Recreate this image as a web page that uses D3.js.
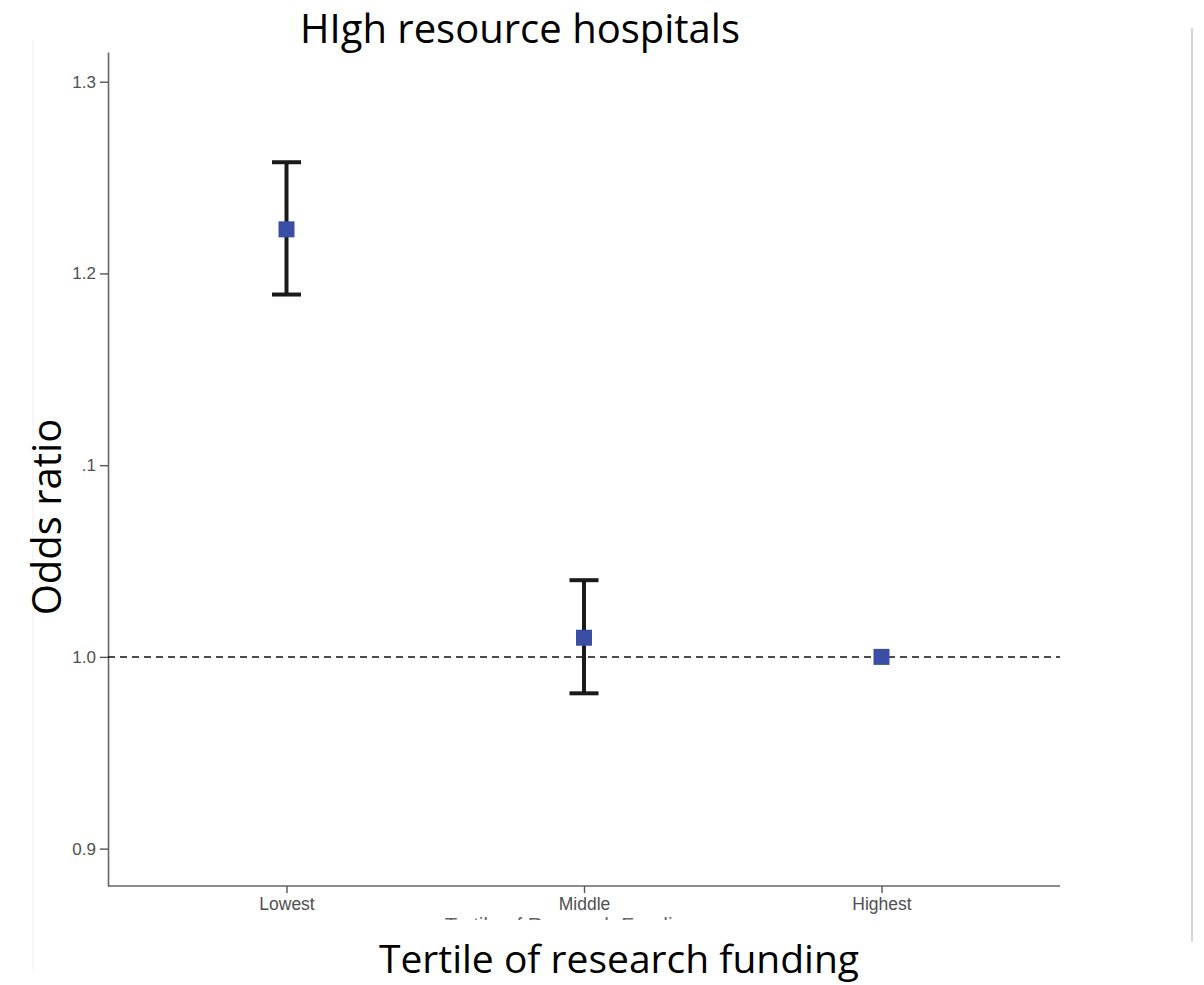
<!DOCTYPE html>
<html>
<head>
<meta charset="utf-8">
<script src="https://cdn.jsdelivr.net/npm/d3@7"></script>
<style>
html,body{margin:0;padding:0;background:#fff;}
svg{display:block;}
</style>
</head>
<body>
<svg id="chart" width="1204" height="985"></svg>
<script>
const categories = ["Lowest", "Middle", "Highest"];
const oddsRatio = [1.223, 1.010, 1.000];
const ciLower = [1.189, 0.981, null];
const ciUpper = [1.258, 1.040, null];
const yTicks = [0.9, 1.0, 1.1, 1.2, 1.3];
const yTickLabels = ["0.9", "1.0", ".1", "1.2", "1.3"];
const referenceValue = 1.0;

(function () {
const svg = d3.select("#chart");
const mLeft = 108, mRight = 1060, mTop = 52, mBottom = 886;

const x = d3.scalePoint().domain(categories).range([mLeft, mRight]).padding(0.6);
const y = d3.scaleLinear().domain([0.8805, 1.3155]).range([mBottom, mTop]);

// faint frame lines from the screenshot
svg.append("line").attr("x1", 33).attr("x2", 33).attr("y1", 40).attr("y2", 970)
  .attr("stroke", "#f7f7f7").attr("stroke-width", 2);
svg.append("line").attr("x1", 1192).attr("x2", 1192).attr("y1", 28).attr("y2", 942)
  .attr("stroke", "#d6d6d6").attr("stroke-width", 2);

const tickFont = "Liberation Sans, Arial, sans-serif";

// Y axis
const yAxis = svg.append("g").attr("transform", `translate(${mLeft},0)`)
  .call(d3.axisLeft(y).tickValues(yTicks).tickSizeInner(8).tickSizeOuter(0).tickPadding(4)
    .tickFormat((d, i) => yTickLabels[i]));
yAxis.select(".domain").attr("stroke", "#666").attr("stroke-width", 1.6);
yAxis.selectAll(".tick line").attr("stroke", "#555").attr("stroke-width", 1.4);
yAxis.selectAll(".tick text").attr("fill", "#505050").style("font-family", tickFont).style("font-size", "17px");

// X axis
const xAxis = svg.append("g").attr("transform", `translate(0,${mBottom})`)
  .call(d3.axisBottom(x).tickSizeInner(7).tickSizeOuter(0).tickPadding(5));
xAxis.select(".domain").attr("stroke", "#666").attr("stroke-width", 1.6)
  .attr("d", `M${mLeft},0H${mRight}`);
xAxis.selectAll(".tick line").attr("stroke", "#555").attr("stroke-width", 1.4);
xAxis.selectAll(".tick text").attr("fill", "#505050").style("font-family", tickFont).style("font-size", "17.5px");

// reference dashed line
svg.append("line")
  .attr("x1", mLeft).attr("x2", mRight)
  .attr("y1", y(referenceValue)).attr("y2", y(referenceValue))
  .attr("stroke", "#111").attr("stroke-width", 1.5)
  .attr("stroke-dasharray", "7,5");

// error bars
const data = categories.map((c, i) => ({c, or: oddsRatio[i], lo: ciLower[i], hi: ciUpper[i]}));
const capHalf = 14.5;
const eb = svg.append("g");
data.filter(d => d.lo != null).forEach(d => {
  const cx = x(d.c);
  eb.append("line").attr("x1", cx).attr("x2", cx).attr("y1", y(d.hi)).attr("y2", y(d.lo))
    .attr("stroke", "#1a1a1a").attr("stroke-width", 4);
  [d.hi, d.lo].forEach(v => {
    eb.append("line").attr("x1", cx - capHalf).attr("x2", cx + capHalf).attr("y1", y(v)).attr("y2", y(v))
      .attr("stroke", "#1a1a1a").attr("stroke-width", 4);
  });
});

// points
const size = 16;
svg.append("g").selectAll("rect").data(data).join("rect")
  .attr("x", d => x(d.c) - size / 2)
  .attr("y", d => y(d.or) - size / 2)
  .attr("width", size).attr("height", size)
  .attr("fill", "#3a4ea5");

// hidden original x title (mostly covered)
svg.append("clipPath").attr("id", "clipT").append("rect")
  .attr("x", 400).attr("y", 917).attr("width", 350).attr("height", 3);
svg.append("text").attr("x", 570).attr("y", 932)
  .attr("text-anchor", "middle").attr("clip-path", "url(#clipT)")
  .attr("fill", "#666").style("font-family", tickFont).style("font-size", "20.5px")
  .text("Tertile of Research Funding");

// Titles
const titleFont = "'Open Sans', 'Noto Sans', sans-serif";
svg.append("text").attr("x", 520).attr("y", 43).attr("text-anchor", "middle")
  .attr("fill", "#000").style("font-family", titleFont).style("font-size", "40px")
  .text("HIgh resource hospitals");
svg.append("text").attr("x", 619).attr("y", 973).attr("text-anchor", "middle")
  .attr("fill", "#000").style("font-family", titleFont).style("font-size", "39px")
  .text("Tertile of research funding");
svg.append("text").attr("transform", "translate(61,517) rotate(-90)").attr("text-anchor", "middle")
  .attr("fill", "#000").style("font-family", titleFont).style("font-size", "40px")
  .text("Odds ratio");
})();
</script>
</body>
</html>
